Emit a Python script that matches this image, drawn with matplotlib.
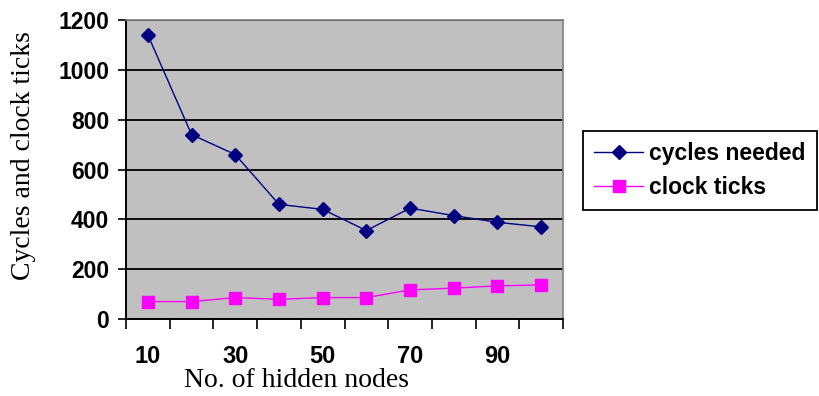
import matplotlib
matplotlib.use("Agg")
import matplotlib.pyplot as plt

# hidden nodes vs. training cost
nodes = [10, 20, 30, 40, 50, 60, 70, 80, 90, 100]
cycles_needed = [1140, 740, 660, 460, 440, 355, 445, 415, 388, 370]
clock_ticks = [70, 70, 86, 79, 86, 86, 117, 124, 133, 137]
y_ticks = [0, 200, 400, 600, 800, 1000, 1200]

fig = plt.figure(figsize=(8.2, 3.96), dpi=100)
ax = fig.add_axes([0.1537, 0.1944, 0.5329, 0.7551])
ax.set_facecolor("#C0C0C0")

pos = list(range(len(nodes)))
ax.plot(pos, cycles_needed, color="#000080", lw=1.0, marker="D", ms=7.5,
        mfc="#000080", mec="#000080", label="cycles needed", zorder=3)
ax.plot(pos, clock_ticks, color="#FF00FF", lw=1.0, marker="s", ms=8,
        mfc="#FF00FF", mec="#FF00FF", label="clock ticks", zorder=3)

ax.set_xlim(-0.5, len(nodes) - 0.5)
ax.set_ylim(0, 1200)
ax.set_yticks(y_ticks)
ax.yaxis.grid(True, color="black", lw=1.3)
ax.set_axisbelow(True)

# category boundaries carry the tick marks, centres carry every other label
ax.set_xticks([p - 0.5 for p in pos] + [len(nodes) - 0.5])
ax.set_xticklabels([])
ax.set_xticks(pos[::2], minor=True)
ax.set_xticklabels([str(n) for n in nodes[::2]], minor=True)
ax.tick_params(axis="x", which="major", direction="out", length=7, width=1.2, color="black")
ax.tick_params(axis="x", which="minor", length=0, pad=19)
ax.tick_params(axis="y", direction="out", length=6, width=1.2, pad=6)

for lab in ax.get_yticklabels():
    lab.set_fontfamily("Liberation Sans")
    lab.set_fontweight("bold")
    lab.set_fontsize(16.5)
for lab in ax.get_xticklabels(minor=True):
    lab.set_fontfamily("Liberation Sans")
    lab.set_fontweight("bold")
    lab.set_fontsize(17)

for s in ["top", "right"]:
    ax.spines[s].set_color("#808080")
    ax.spines[s].set_linewidth(1.2)
for s in ["left", "bottom"]:
    ax.spines[s].set_color("black")
    ax.spines[s].set_linewidth(1.4)

ax.set_xlabel("No. of hidden nodes", fontfamily="Liberation Serif", fontsize=20)
ax.xaxis.set_label_coords(0.389, -0.165)
ax.set_ylabel("Cycles and clock ticks", fontfamily="Liberation Serif", fontsize=20)
ax.yaxis.set_label_coords(-0.205, 0.545)

leg = fig.legend(handles=ax.get_lines(), loc="upper left",
                 bbox_to_anchor=(583 / 820, 1 - 131 / 396),
                 prop={"family": "Liberation Sans", "weight": "bold", "size": 16.5},
                 frameon=True, fancybox=False, edgecolor="black", framealpha=1,
                 handlelength=2.1, borderpad=0.5, labelspacing=0.45, handletextpad=0.3,
                 borderaxespad=0)
leg.get_frame().set_linewidth(1.3)

fig.savefig("out.png", dpi=100)
